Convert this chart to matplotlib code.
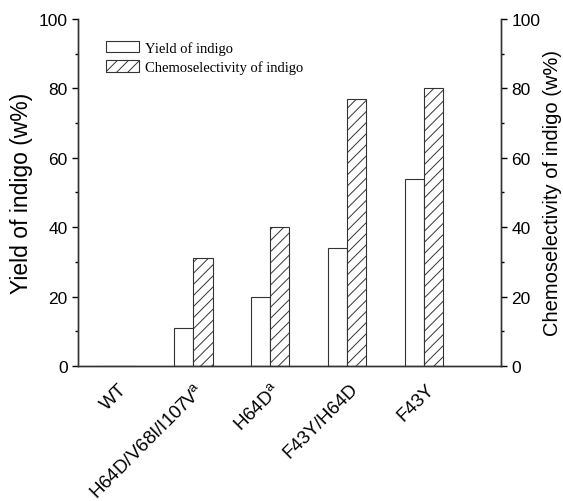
import numpy as np
import matplotlib.pyplot as plt
from matplotlib.transforms import ScaledTranslation

plt.rcParams['font.family'] = ['Liberation Sans', 'DejaVu Sans']
plt.rcParams['hatch.linewidth'] = 0.7
plt.rcParams['hatch.color'] = '#666666'
plt.rcParams['axes.linewidth'] = 1.0
plt.rcParams['axes.edgecolor'] = '#333333'

labels = ['WT', r'H64D/V68I/I107V$\mathregular{^a}$', r'H64D$\mathregular{^a}$', 'F43Y/H64D', 'F43Y']
yield_vals = [0, 11, 20, 34, 54]
chemo_vals = [0, 31, 40, 77, 80]

fig = plt.figure(figsize=(5.63, 5.02), dpi=100)
ax = fig.add_axes([0.1385, 0.269, 0.7513, 0.6912])
x = np.arange(len(labels))
w = 0.25
ax.bar(x - w / 2, yield_vals, w, facecolor='white', edgecolor='#333333', linewidth=0.8,
       label='Yield of indigo')
ax.bar(x + w / 2, chemo_vals, w, facecolor='white', edgecolor='#333333', linewidth=0.8,
       hatch='///', label='Chemoselectivity of indigo')

ax.set_xlim(-0.5, 5.0)
ax.set_ylim(0, 100)
ax.set_yticks([0, 20, 40, 60, 80, 100])
ax.set_yticks([10, 30, 50, 70, 90], minor=True)
ax.set_xticks(x)
ax.set_xticklabels(labels, rotation=45, ha='right', fontsize=13.5)
ax.tick_params(axis='x', length=0, pad=10)
ax.tick_params(axis='y', which='major', direction='out', length=4.5, width=1, labelsize=12.5, pad=3)
ax.tick_params(axis='y', which='minor', direction='out', length=2.5, width=1)
ax.spines['top'].set_visible(False)
ax.set_ylabel('Yield of indigo (w%)', fontsize=16.5, labelpad=4)
shift = ScaledTranslation(14 / 100, 0, fig.dpi_scale_trans)
for lab in ax.get_xticklabels():
    lab.set_transform(lab.get_transform() + shift)

ax2 = ax.twinx()
ax2.set_ylim(0, 100)
ax2.set_yticks([0, 20, 40, 60, 80, 100])
ax2.set_yticks([10, 30, 50, 70, 90], minor=True)
ax2.tick_params(axis='y', which='major', direction='out', length=4.5, width=1, labelsize=12.5, pad=3)
ax2.tick_params(axis='y', which='minor', direction='out', length=2.5, width=1)
ax2.spines['top'].set_visible(False)
ax2.set_ylabel('Chemoselectivity of indigo (w%)', fontsize=14.5, labelpad=2)

ax.legend(loc='upper left', bbox_to_anchor=(0.035, 0.975), frameon=False,
          prop={'family': 'Liberation Serif', 'size': 10.5},
          handlelength=2.3, handleheight=0.85, handletextpad=0.35, labelspacing=0.4)

fig.savefig('out.png', dpi=100)
